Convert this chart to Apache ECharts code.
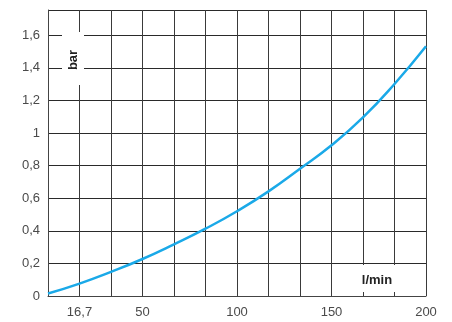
<!DOCTYPE html>
<html>
<head>
<meta charset="utf-8">
<script src="https://cdn.jsdelivr.net/npm/echarts@6/dist/echarts.min.js"></script>
<style>
html,body{margin:0;padding:0;background:#fff;}
#chart{width:452px;height:322px;}
</style>
</head>
<body>
<div id="chart"></div>
<script>
// Flow rate (l/min) and pressure drop (bar)
const flow = [0, 16.667, 33.333, 50, 66.667, 83.333, 100, 116.667, 133.333, 150, 166.667, 183.333, 200];
const pressure = [0.015, 0.076, 0.148, 0.227, 0.317, 0.413, 0.52, 0.642, 0.781, 0.925, 1.096, 1.301, 1.532];
const xLabelValues = [16.667, 50, 100, 150, 200];
const xLabelTexts = ['16,7', '50', '100', '150', '200'];
const yUnit = 'bar';
const xUnit = 'l/min';

const chart = echarts.init(document.getElementById('chart'), null, {renderer: 'canvas'});
const font = '"Liberation Sans", Arial, sans-serif';

chart.setOption({
  animation: false,
  backgroundColor: '#fff',
  grid: {left: 48, right: 26, top: 10, bottom: 26},
  xAxis: {
    type: 'value', min: 0, max: 200, interval: 200 / 12,
    axisLine: {show: true, lineStyle: {color: '#444', width: 1}},
    axisTick: {show: false},
    splitLine: {show: true, lineStyle: {color: '#3a3a3a', width: 1}},
    axisLabel: {
      color: '#4a4a4a', fontSize: 13, fontFamily: font, margin: 10,
      formatter: function (v) {
        for (let i = 0; i < xLabelValues.length; i++) {
          if (Math.abs(v - xLabelValues[i]) < 0.5) return xLabelTexts[i];
        }
        return '';
      }
    }
  },
  yAxis: {
    type: 'value', min: 0, max: 1.755, interval: 0.2,
    axisLine: {show: true, lineStyle: {color: '#444', width: 1}},
    axisTick: {show: false},
    splitLine: {show: true, lineStyle: {color: '#2a2a2a', width: 1}},
    axisLabel: {
      color: '#4a4a4a', fontSize: 13, fontFamily: font, margin: 8, showMaxLabel: false,
      formatter: function (v) {
        if (v > 1.7) return '';
        return String(Math.round(v * 10) / 10).replace('.', ',');
      }
    }
  },
  series: [{
    type: 'line',
    data: flow.map((f, i) => [f, pressure[i]]),
    smooth: 0.5,
    symbol: 'none',
    lineStyle: {color: '#1aa9e8', width: 2.5},
    z: 5
  }],
  graphic: [
    {type: 'rect', z: 100, shape: {x: 62, y: 32, width: 22, height: 53}, style: {fill: '#fff'}},
    {type: 'text', z: 101, x: 73, y: 60, rotation: Math.PI / 2,
     style: {text: yUnit, fill: '#222', font: 'bold 13px ' + font, textAlign: 'center', textVerticalAlign: 'middle'}},
    {type: 'rect', z: 100, shape: {x: 352, y: 265, width: 48, height: 27}, style: {fill: '#fff'}},
    {type: 'text', z: 101, x: 377, y: 280,
     style: {text: xUnit, fill: '#222', font: 'bold 13px ' + font, textAlign: 'center', textVerticalAlign: 'middle'}}
  ]
});
</script>
</body>
</html>
